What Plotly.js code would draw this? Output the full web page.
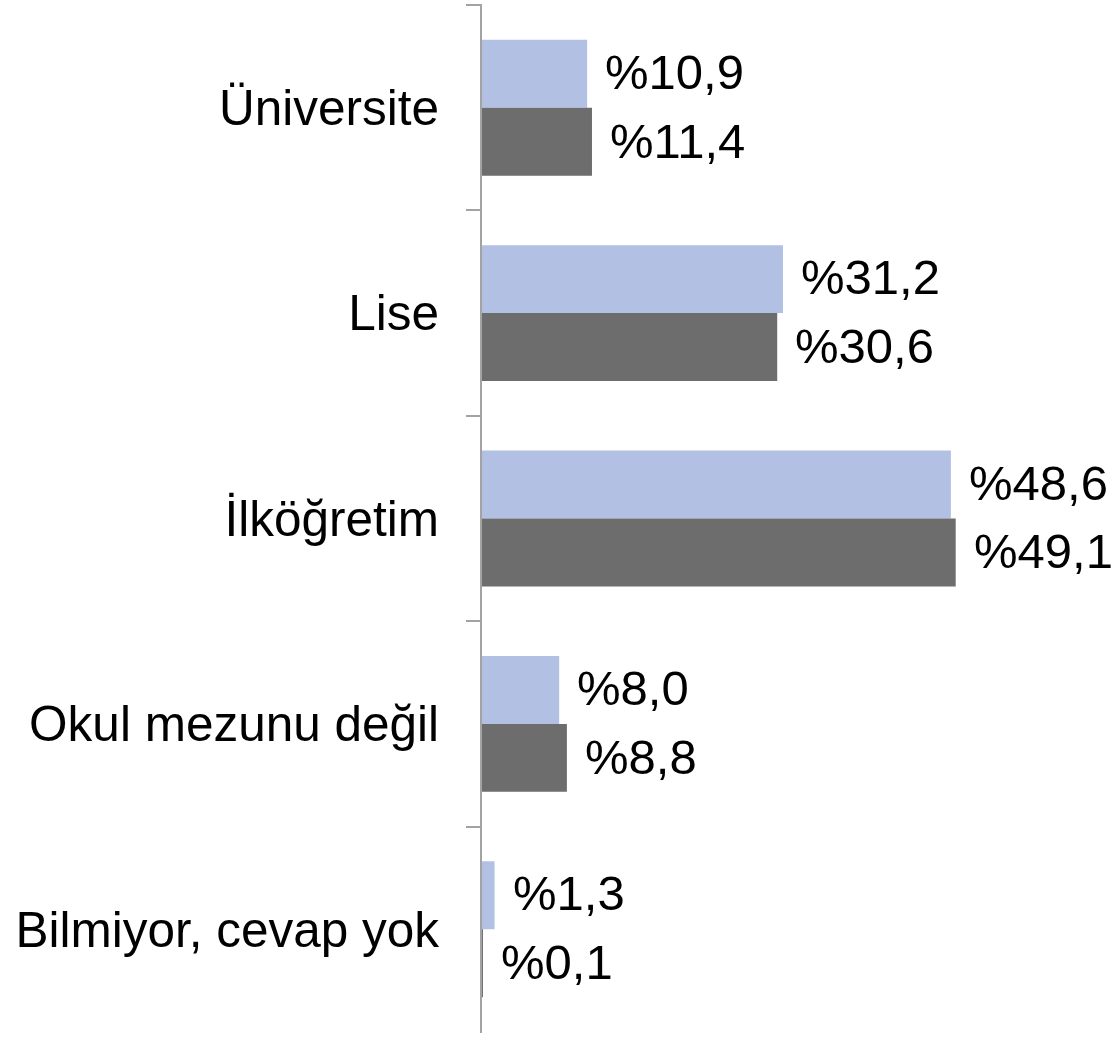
<!DOCTYPE html>
<html>
<head>
<meta charset="utf-8">
<script src="https://cdn.plot.ly/plotly-3.0.1.min.js"></script>
<style>
  html, body { margin: 0; padding: 0; background: #ffffff; }
  #chart { width: 1112px; height: 1040px; }
</style>
</head>
<body>
<div id="chart"></div>
<script>
// Education level shares, two survey groups
var categories = ['Üniversite', 'Lise', 'İlköğretim', 'Okul mezunu değil', 'Bilmiyor, cevap yok'];
var seriesA = [10.9, 31.2, 48.6, 8.0, 1.3];
var seriesB = [11.4, 30.6, 49.1, 8.8, 0.1];

var FONT = 'Liberation Sans, Arial, Helvetica, sans-serif';
var BLUE = '#b2c0e4';
var GRAY = '#6d6d6d';
var BARGAP = 0.338;

function fmt(v) {
    return '%' + v.toFixed(1).replace('.', ',');
}

var traceA = {
    type: 'bar',
    orientation: 'h',
    y: categories,
    x: seriesA,
    name: 'A',
    marker: { color: BLUE },
    hoverinfo: 'skip'
};

var traceB = {
    type: 'bar',
    orientation: 'h',
    y: categories,
    x: seriesB,
    name: 'B',
    marker: { color: GRAY },
    hoverinfo: 'skip'
};

// value labels sit a little off the bar ends, so annotations instead of bar text
var half = (1 - BARGAP) / 4;
var annotations = [];
categories.forEach(function (cat, i) {
    annotations.push({
        x: seriesA[i], y: i - half, xref: 'x', yref: 'y',
        text: fmt(seriesA[i]), showarrow: false,
        xanchor: 'left', yanchor: 'middle', xshift: 16, yshift: 2,
        font: { family: FONT, size: 49, color: '#000000' }
    });
    annotations.push({
        x: seriesB[i], y: i + half, xref: 'x', yref: 'y',
        text: fmt(seriesB[i]), showarrow: false,
        xanchor: 'left', yanchor: 'middle', xshift: 16, yshift: 1,
        font: { family: FONT, size: 49, color: '#000000' }
    });
});

var layout = {
    width: 1112,
    height: 1040,
    margin: { t: 4, r: 0, b: 7, l: 482 },
    barmode: 'group',
    bargap: BARGAP,
    bargroupgap: 0,
    showlegend: false,
    paper_bgcolor: '#ffffff',
    plot_bgcolor: '#ffffff',
    font: { family: FONT, size: 49, color: '#000000' },
    xaxis: {
        range: [0, 65.3],
        visible: false,
        fixedrange: true
    },
    yaxis: {
        type: 'category',
        range: [4.505, -0.505],
        showline: true,
        linecolor: '#a3a3a3',
        linewidth: 2,
        ticks: 'outside',
        tickson: 'boundaries',
        ticklen: 14,
        tickwidth: 2,
        tickcolor: '#a3a3a3',
        ticklabelstandoff: 31,
        showgrid: false,
        zeroline: false,
        tickfont: { family: FONT, size: 49.5, color: '#000000' },
        fixedrange: true
    },
    annotations: annotations
};

Plotly.newPlot('chart', [traceA, traceB], layout, { displayModeBar: false, staticPlot: true });
</script>
</body>
</html>
